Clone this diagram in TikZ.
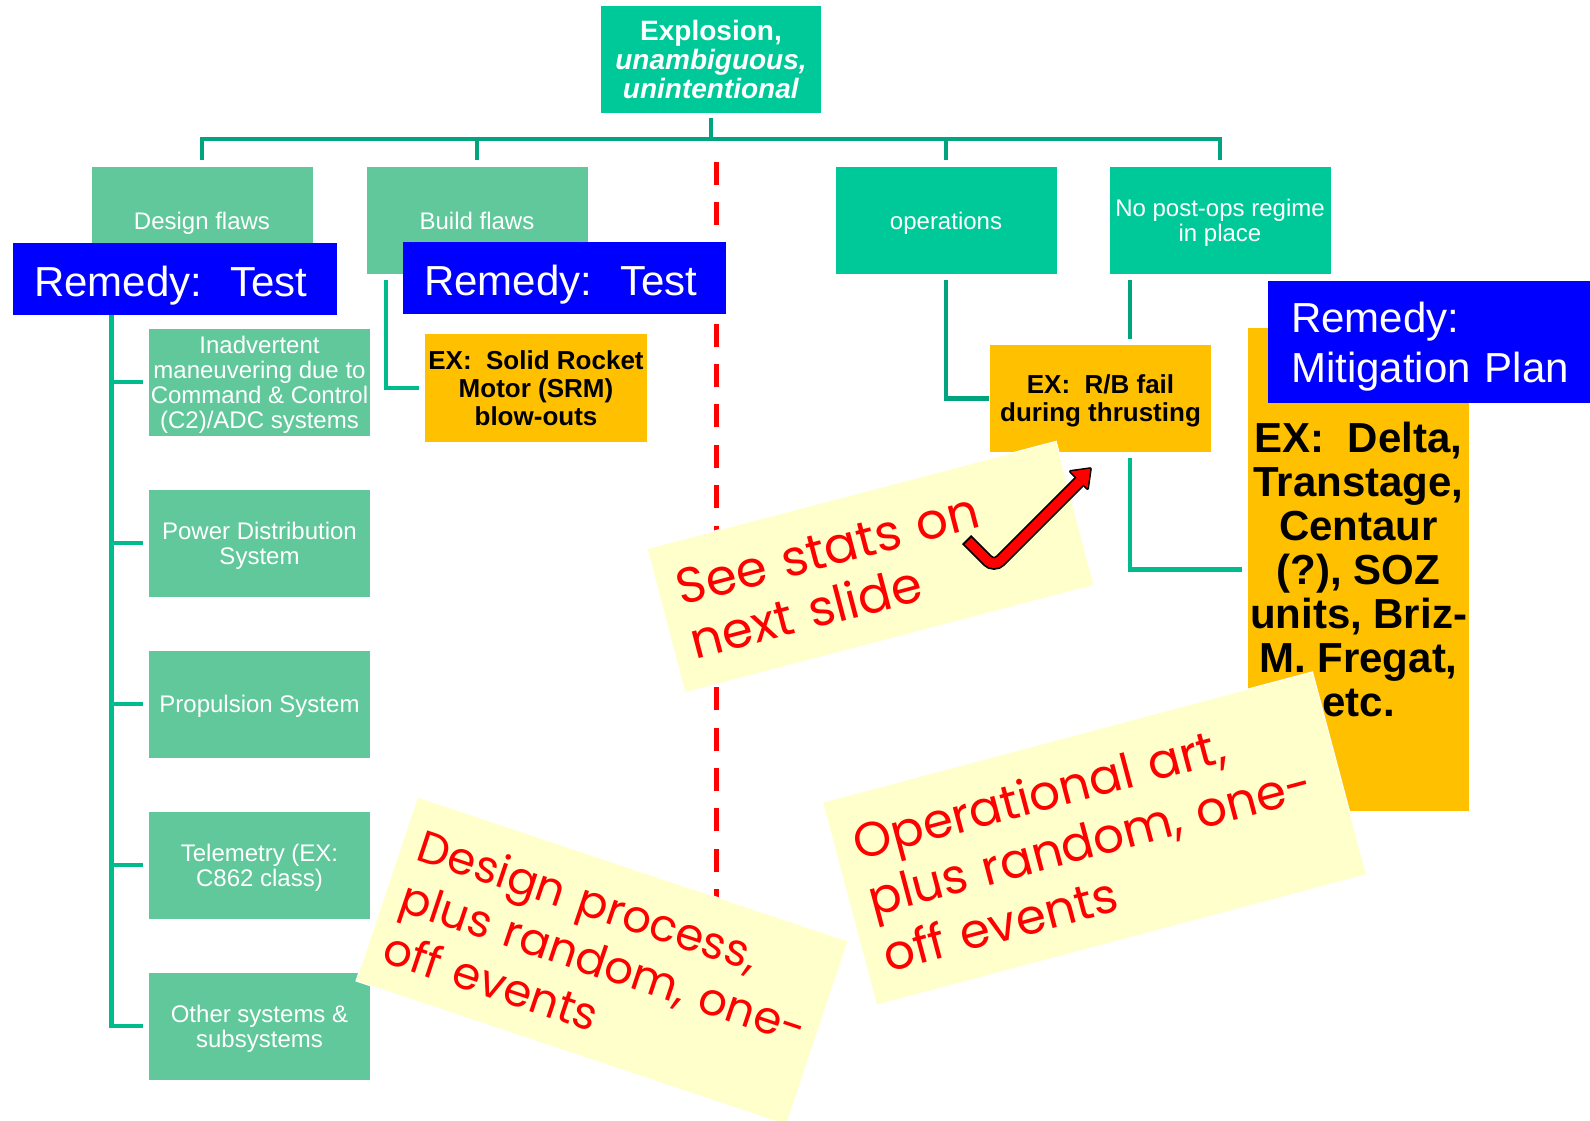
\documentclass[tikz,border=0pt]{standalone}
\usepackage{fontspec}
\setmainfont{Liberation Sans}
\newfontfamily\handfont{Poppins}
\definecolor{teal1}{HTML}{00C999}
\definecolor{leaf}{HTML}{60C89B}
\definecolor{linkdark}{HTML}{00A47E}
\definecolor{linklight}{HTML}{00BC8D}
\definecolor{exorange}{HTML}{FFC000}
\definecolor{remblue}{HTML}{0000FF}
\definecolor{notey}{HTML}{FFFFCC}
\definecolor{notered}{HTML}{FF0000}

\begin{document}
\begin{tikzpicture}[x=1pt,y=-1pt,
  every node/.style={inner sep=0pt, outer sep=0pt},
  cell/.style={rectangle, minimum width=221pt, minimum height=107pt, align=center,
    text=white, text depth=0pt, font=\fontsize{24}{25}\selectfont},
  oneline/.style={text height=17.5pt},
  flaw/.style={cell, fill=leaf},
  branch/.style={cell, fill=teal1},
  example/.style={rectangle, fill=exorange, minimum width=221pt, minimum height=107pt,
    align=center, text=black, text depth=0pt, font=\fontsize{26}{28}\selectfont\bfseries},
  remedy/.style={rectangle, fill=remblue, anchor=north west, text=white, align=left,
    inner xsep=21pt, font=\fontsize{42}{50}\selectfont},
  note/.style={rectangle, fill=notey, draw=white, line width=1pt, text=notered, align=left},
  bus/.style={draw=linkdark, line width=4.5pt},
  twig/.style={draw=linklight, line width=4.5pt},
  fence/.style={draw=notered, line width=5pt, dash pattern=on 23pt off 17.4pt}
]
\fill[white] (0,0) rectangle (1590,1121);
\useasboundingbox (0,0) rectangle (1590,1121);

% dividing line between design/build and operations
\draw[fence] (716,162) -- (716,900);

% root
\node[branch, minimum width=220pt, font=\fontsize{28}{29}\selectfont\bfseries] (root) at (711,59.5)
  {Explosion,\\\textit{unambiguous,}\\\textit{unintentional}};

% second level
\node[flaw, oneline] (design) at (202,220.5) {Design flaws};
\node[flaw, oneline] (build) at (477,220.5) {Build flaws};
\node[branch, oneline] (ops) at (946,220.5) {operations};
\node[branch] (nopost) at (1220,220.5) {No post-ops regime\\in place};

% design subsystems
\node[flaw] (inadv) at (259.5,382) {Inadvertent\\maneuvering due to\\Command \& Control\\(C2)/ADC systems};
\node[flaw] (power) at (259.5,543) {Power Distribution\\System};
\node[flaw, oneline] (prop) at (259.5,704) {Propulsion System};
\node[flaw] (telem) at (259.5,865) {Telemetry (EX:\\C862 class)};
\node[flaw] (other) at (259.5,1026) {Other systems \&\\subsystems};

% examples
\node[example, minimum width=222pt, minimum height=108pt] (srm) at (536,388)
  {EX:\ \ Solid Rocket\\Motor (SRM)\\blow-outs};
\node[example] (rb) at (1100.5,398.5) {EX:\ \ R/B fail\\during thrusting};
\node[example, minimum height=483pt, font=\fontsize{42}{44}\selectfont\bfseries] (big) at (1358.5,569.5)
  {EX:\ \ Delta,\\Transtage,\\Centaur\\(?), SOZ\\units, Briz-\\M. Fregat,\\etc.};

% remedies
\node[remedy, minimum width=324pt, minimum height=72pt, text width=282pt, text height=34pt, text depth=0pt] (rem1) at (13,243) {Remedy:\ \ Test};
\node[remedy, minimum width=323pt, minimum height=72pt, text width=281pt, text height=34pt, text depth=0pt] (rem2) at (403,242) {Remedy:\ \ Test};
\node[remedy, minimum height=122pt, text width=300pt, inner xsep=23pt, text depth=49pt] (rem3) at (1268,281)
  {Remedy:\\Mitigation Plan};

% tree connectors
\coordinate (busy) at (711,139);
\draw[bus, shorten <=5pt] (root.south) -- (busy);
\draw[bus, shorten <=7pt, shorten >=7pt] (design.north) -- (design.north |- busy) -- (nopost.north |- busy) -- (nopost.north);
\draw[bus, shorten >=7pt] (build.north |- busy) -- (build.north);
\draw[bus, shorten >=7pt] (ops.north |- busy) -- (ops.north);

\coordinate (spx) at (111.5,0);
\draw[twig, shorten >=6pt] (rem1.south -| spx) -- (spx |- other.west) -- (other.west);
\foreach \n in {inadv,power,prop,telem}
  \draw[twig, shorten >=6pt] (spx |- \n.west) -- (\n.west);

\coordinate (bfx) at (386,0);
\draw[twig, shorten <=6pt, shorten >=6pt] (build.south -| bfx) -- (bfx |- srm.west) -- (srm.west);

\draw[bus, shorten <=6pt, shorten >=1pt] (ops.south) -- (ops.south |- rb.west) -- (rb.west);

\coordinate (npx) at (1130,0);
\draw[bus, shorten <=6pt, shorten >=6pt] (nopost.south -| npx) -- (rb.north -| npx);
\draw[twig, shorten <=6pt, shorten >=6pt] (rb.south -| npx) -- (npx |- big.west) -- (big.west);

% sticky notes
\node[note, rotate=14.7, minimum width=423pt, minimum height=149pt, text width=385pt,
  font=\handfont\fontsize{50}{56}\selectfont] (stats) at (870.5,567)
  {\mbox{See stats on}\\\mbox{next slide}};
\node[note, rotate=-18.5, minimum width=454pt, minimum height=194pt, text width=420pt,
  font=\handfont\fontsize{45}{54}\selectfont] (designnote) at (602,961)
  {\mbox{Design process,}\\\mbox{plus random, one-}\\\mbox{off events}};
\node[note, rotate=14.9, minimum width=507pt, minimum height=210pt, text width=467pt,
  font=\handfont\fontsize{48.5}{58}\selectfont] (opsnote) at (1094.5,838.5)
  {\mbox{Operational art,}\\\mbox{plus random, one-}\\\mbox{off events}};

% check-mark arrow pointing at the R/B example
\draw[black, line width=13pt, rounded corners=9pt] (966.6,539.6) -- (994,567) -- (1079,482);
\filldraw[black, line width=3pt, line join=round] (1090.3,468.7) -- (1070.5,471.5) -- (1087.5,488.5) -- cycle;
\draw[notered, line width=9.5pt, rounded corners=9pt] (968,541) -- (994,567) -- (1080,481);
\fill[notered] (1090.3,468.7) -- (1070.5,471.5) -- (1087.5,488.5) -- cycle;
\end{tikzpicture}
\end{document}
